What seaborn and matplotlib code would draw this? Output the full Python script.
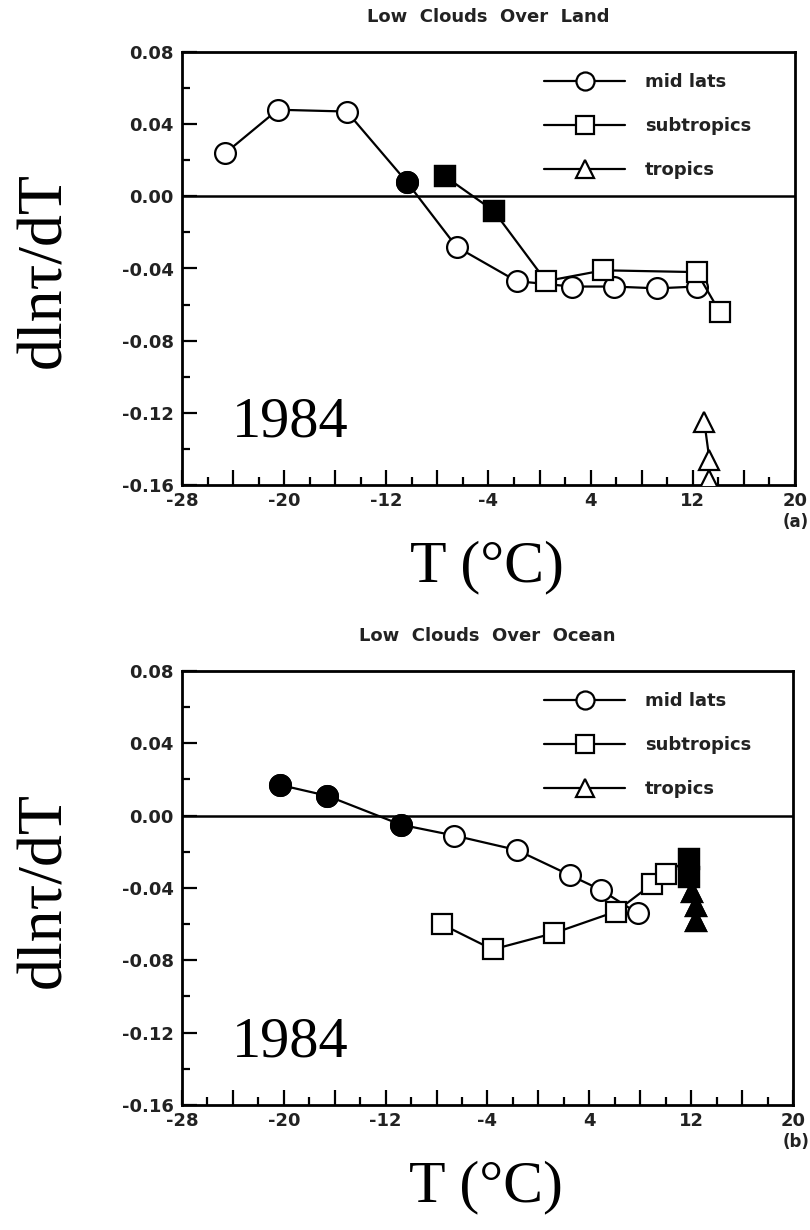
import matplotlib
matplotlib.use("Agg")
import matplotlib.pyplot as plt
import numpy as np
import pandas as pd
import seaborn as sns
from matplotlib.lines import Line2D
from matplotlib.ticker import MultipleLocator, FuncFormatter

sns.set_theme(style="ticks")
plt.rcParams['font.family'] = ['DejaVu Sans']
plt.rcParams['axes.unicode_minus'] = False
plt.rcParams['text.color'] = 'black'

# ---- Low clouds over land: temperature (°C) and dln(tau)/dT ----
land_midlat_T = [-24.6, -20.5, -15.1, -10.4, -6.5, -1.8, 2.5, 5.8, 9.2, 12.3]
land_midlat_v = [0.024, 0.048, 0.047, 0.008, -0.028, -0.047, -0.050, -0.050, -0.051, -0.050]
land_midlat_filled = [0, 0, 0, 1, 0, 0, 0, 0, 0, 0]

land_subtrop_T = [-7.4, -3.6, 0.5, 5.0, 12.3, 14.1]
land_subtrop_v = [0.011, -0.008, -0.047, -0.041, -0.042, -0.064]
land_subtrop_filled = [1, 1, 0, 0, 0, 0]

land_trop_T = [12.9, 13.3, 13.3]
land_trop_v = [-0.125, -0.146, -0.157]
land_trop_filled = [0, 0, 0]

# ---- Low clouds over ocean ----
ocean_midlat_T = [-20.3, -16.6, -10.8, -6.6, -1.7, 2.5, 4.9, 7.8]
ocean_midlat_v = [0.017, 0.011, -0.005, -0.011, -0.019, -0.033, -0.041, -0.054]
ocean_midlat_filled = [1, 1, 1, 0, 0, 0, 0, 0]

ocean_subtrop_T = [-7.6, -3.6, 1.2, 6.1, 8.9, 10.0, 11.8, 11.8]
ocean_subtrop_v = [-0.060, -0.074, -0.065, -0.053, -0.038, -0.032, -0.024, -0.034]
ocean_subtrop_filled = [0, 0, 0, 0, 0, 0, 1, 1]

ocean_trop_T = [12.1, 12.4, 12.4]
ocean_trop_v = [-0.042, -0.050, -0.058]
ocean_trop_filled = [1, 1, 1]

series_labels = ["mid lats", "subtropics", "tropics"]
series_markers = ["o", "s", "^"]
x_ticklabel_values = [-28, -20, -12, -4, 4, 12, 20]

panels = [
    dict(title="Low  Clouds  Over  Land", tag="(a)",
         series=[(land_midlat_T, land_midlat_v, land_midlat_filled),
                 (land_subtrop_T, land_subtrop_v, land_subtrop_filled),
                 (land_trop_T, land_trop_v, land_trop_filled)]),
    dict(title="Low  Clouds  Over  Ocean", tag="(b)",
         series=[(ocean_midlat_T, ocean_midlat_v, ocean_midlat_filled),
                 (ocean_subtrop_T, ocean_subtrop_v, ocean_subtrop_filled),
                 (ocean_trop_T, ocean_trop_v, ocean_trop_filled)]),
]

W, H = 810, 1230
fig = plt.figure(figsize=(W / 100, H / 100), dpi=100)

# axes boxes in pixel units: left, top, right, bottom
boxes = [(182, 52, 795, 485), (182, 671, 793, 1105)]

LW = 1.6
MS = 15
tick_font = dict(family="DejaVu Sans", weight="bold", size=13)


def fx(px):
    return px / W


def fy(py):
    return 1 - py / H


for panel, (l, t, r, b) in zip(panels, boxes):
    ax = fig.add_axes([fx(l), fy(b), (r - l) / W, (b - t) / H])
    ax.axhline(0, color="black", lw=1.8, zorder=1)

    for (T, v, filled), marker in zip(panel["series"], series_markers):
        df = pd.DataFrame({"T": T, "v": v, "filled": filled})
        sns.lineplot(data=df, x="T", y="v", sort=False, estimator=None,
                     color="black", lw=LW, marker=marker, markersize=MS,
                     markerfacecolor="white", markeredgecolor="black",
                     markeredgewidth=LW, ax=ax, legend=False, zorder=3)
        solid = df[df["filled"] == 1]
        if len(solid):
            sns.lineplot(data=solid, x="T", y="v", sort=False, estimator=None,
                         color="black", linestyle="", marker=marker,
                         markersize=MS, markerfacecolor="black",
                         markeredgecolor="black", markeredgewidth=LW,
                         ax=ax, legend=False, zorder=4)

    ax.set_xlim(-28, 20)
    ax.set_ylim(-0.16, 0.08)
    ax.xaxis.set_major_locator(MultipleLocator(4))
    ax.xaxis.set_minor_locator(MultipleLocator(2))
    ax.xaxis.set_major_formatter(FuncFormatter(
        lambda x, p: f"{int(round(x))}" if int(round(x)) in x_ticklabel_values else ""))
    ax.yaxis.set_major_locator(MultipleLocator(0.04))
    ax.yaxis.set_minor_locator(MultipleLocator(0.02))
    ax.yaxis.set_major_formatter(FuncFormatter(lambda y, p: f"{y:.2f}"))
    ax.tick_params(which="major", direction="in", length=11, width=1.6,
                   color="black", pad=6)
    ax.tick_params(which="minor", direction="in", length=6, width=1.6,
                   color="black")
    ax.tick_params(axis="x", which="major", pad=5)
    for lab in ax.get_xticklabels() + ax.get_yticklabels():
        lab.set_fontfamily(tick_font["family"])
        lab.set_fontweight(tick_font["weight"])
        lab.set_fontsize(tick_font["size"])
        lab.set_color("#222222")
    for sp in ax.spines.values():
        sp.set_visible(True)
        sp.set_linewidth(2.0)
        sp.set_color("black")
    ax.set_xlabel("")
    ax.set_ylabel("")

    handles = [Line2D([0], [0], color="black", lw=LW, marker=m, markersize=13,
                      markerfacecolor="white", markeredgecolor="black",
                      markeredgewidth=LW) for m in series_markers]
    fig.legend(handles, series_labels, loc="upper left",
               bbox_to_anchor=(fx(l + 362), fy(t + 21)),
               bbox_transform=fig.transFigure, frameon=False,
               prop=dict(family="DejaVu Sans", weight="bold", size=13),
               handlelength=4.5, handletextpad=1.1, labelspacing=1.45,
               borderpad=0, borderaxespad=0, labelcolor="#222222")

    ax.text(0.082, 0.111, "1984", transform=ax.transAxes, ha="left",
            va="baseline", fontsize=42, family="Liberation Serif",
            color="black")

    fig.text(fx((l + r) / 2), fy(t - 35), panel["title"], ha="center",
             va="center", fontsize=13, fontweight="bold", family="DejaVu Sans",
             color="#222222")
    fig.text(fx(45), fy((t + b) / 2 + 2), "dln\u03c4/dT", rotation=90,
             ha="center", va="center", fontsize=46, family="Liberation Serif",
             color="black")
    fig.text(fx((l + r) / 2 - 2), fy(b + 82), "T (\u00b0C)", ha="center",
             va="center", fontsize=43, family="Liberation Serif",
             color="black")
    fig.text(fx(796), fy(b + 37), panel["tag"], ha="center", va="center",
             fontsize=12, fontweight="bold", family="DejaVu Sans",
             color="#222222")

fig.savefig("out.png", dpi=100, facecolor="white")
